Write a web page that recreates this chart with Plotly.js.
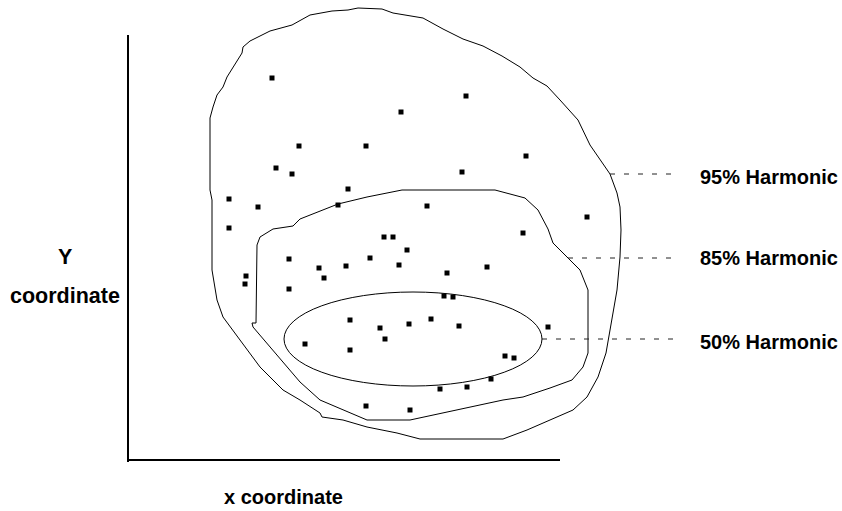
<!DOCTYPE html>
<html>
<head>
<meta charset="utf-8">
<script src="https://cdn.plot.ly/plotly-3.0.1.min.js"></script>
<style>
  html, body { margin: 0; padding: 0; background: #fff; }
  #chart { width: 842px; height: 511px; }
</style>
</head>
<body>
<div id="chart"></div>
<script>
// sample points (x, y measured from the axis corner)
const pointX = [144, 338, 273, 171, 238, 398, 148, 164, 334, 220, 101, 130, 210, 299, 459, 101,
  256, 265, 395, 279, 161, 191, 218, 242, 271, 359, 319, 118, 117, 196, 161, 316, 325,
  222, 252, 281, 303, 331, 420, 257, 177, 222, 377, 386, 363, 312, 339, 238, 282];
const pointY = [382, 364, 348, 314, 314, 304, 292, 286, 288, 271, 261, 253, 255, 254, 243, 232,
  223, 223, 227, 210, 201, 192, 194, 202, 195, 193, 187, 184, 176, 182, 171, 164, 163,
  140, 132, 136, 141, 134, 133, 121, 116, 110, 104, 102, 81, 71, 73, 54, 50];

// 95% harmonic contour
const outerX = [254, 265, 295, 315, 335, 355, 374, 392, 405, 419, 432, 450, 462, 470, 482, 489, 492, 493,
  492, 489, 485, 481, 478, 470, 459, 445, 422, 399, 375, 292, 269, 239, 215, 194, 192, 172, 155, 132,
  112, 95, 89, 84, 84, 84, 82, 82, 85, 89, 95, 99, 114, 115, 122, 142, 164, 182, 204, 220, 230, 254];
const outerY = [451, 447, 442, 431, 421, 414, 404, 393, 382, 374, 360, 340, 315, 303, 286, 267, 253, 230,
  203, 170, 147, 123, 107, 83, 63, 50, 40, 30, 21, 21, 27, 33, 40, 43, 47, 60, 70, 93,
  120, 143, 160, 190, 230, 260, 270, 342, 353, 365, 373, 383, 407, 413, 419, 429, 435, 445, 449, 450, 452, 451];

// 85% harmonic contour
const midX = [128, 129, 132, 145, 165, 172, 210, 239, 274, 367, 397, 410, 420, 425, 442, 452, 460, 460,
  455, 444, 422, 395, 375, 339, 315, 282, 239, 215, 192, 172, 159, 139, 125, 124, 128];
const midY = [137, 215, 223, 231, 234, 241, 256, 263, 270, 270, 262, 250, 231, 217, 200, 190, 170, 107,
  93, 80, 72, 63, 60, 52, 47, 40, 40, 50, 60, 78, 93, 117, 133, 137, 137];

// 50% harmonic ellipse
const ellipseCenter = [285, 121];
const ellipseRadius = [129, 47];

// leader lines and labels
const labels = ['95% Harmonic', '85% Harmonic', '50% Harmonic'];
const leaderStart = [482, 440, 414];
const leaderEnd = [546, 544, 554];
const leaderY = [286, 202, 121];
const labelY = [283, 202, 118];

const xTitle = 'x coordinate';
const yTitle = ['Y', 'coordinate'];

const fontFamily = 'Liberation Sans, Arial, sans-serif';
const labelFont = { family: fontFamily, size: 20, color: '#000', weight: 'bold' };
const titleFont = { family: fontFamily, size: 20, color: '#000', weight: 'bold' };
const yTitleFont = { family: fontFamily, size: 21.5, color: '#000', weight: 'bold' };

const traces = [
  { x: outerX, y: outerY, type: 'scatter', mode: 'lines', line: { color: '#000', width: 1 }, hoverinfo: 'skip' },
  { x: midX, y: midY, type: 'scatter', mode: 'lines', line: { color: '#000', width: 1 }, hoverinfo: 'skip' },
  { x: pointX, y: pointY, type: 'scatter', mode: 'markers',
    marker: { symbol: 'square', size: 5, color: '#000' } }
];

labels.forEach((t, i) => {
  traces.push({
    x: [leaderStart[i], leaderEnd[i]], y: [leaderY[i], leaderY[i]],
    type: 'scatter', mode: 'lines', line: { color: '#222', width: 1, dash: '5px,9px' }, hoverinfo: 'skip'
  });
});

const shapes = [
  { type: 'line', xref: 'x', yref: 'y', x0: 0, x1: 0, y0: -2, y1: 425, line: { color: '#000', width: 2 } },
  { type: 'line', xref: 'x', yref: 'y', x0: 0, x1: 432, y0: 0, y1: 0, line: { color: '#000', width: 2 } },
  { type: 'circle', xref: 'x', yref: 'y',
    x0: ellipseCenter[0] - ellipseRadius[0], x1: ellipseCenter[0] + ellipseRadius[0],
    y0: ellipseCenter[1] - ellipseRadius[1], y1: ellipseCenter[1] + ellipseRadius[1],
    line: { color: '#000', width: 1 } }
];

const annotations = labels.map((t, i) => ({
  text: t, x: 570, y: labelY[i], xref: 'x', yref: 'y', xanchor: 'left', yanchor: 'middle',
  showarrow: false, font: labelFont
}));
annotations.push({ text: xTitle, x: 155, y: -37, xref: 'x', yref: 'y', showarrow: false, font: titleFont });
annotations.push({ text: yTitle[0], x: -63, y: 203, xref: 'x', yref: 'y', showarrow: false, font: yTitleFont });
annotations.push({ text: yTitle[1], x: -63, y: 164, xref: 'x', yref: 'y', showarrow: false, font: yTitleFont });

const layout = {
  width: 842,
  height: 511,
  margin: { l: 0, r: 0, t: 0, b: 0 },
  paper_bgcolor: '#fff',
  plot_bgcolor: '#fff',
  showlegend: false,
  xaxis: { range: [-128, 714], visible: false, fixedrange: true },
  yaxis: { range: [-51, 460], visible: false, fixedrange: true },
  shapes: shapes,
  annotations: annotations
};

Plotly.newPlot('chart', traces, layout, { staticPlot: true });
</script>
</body>
</html>
